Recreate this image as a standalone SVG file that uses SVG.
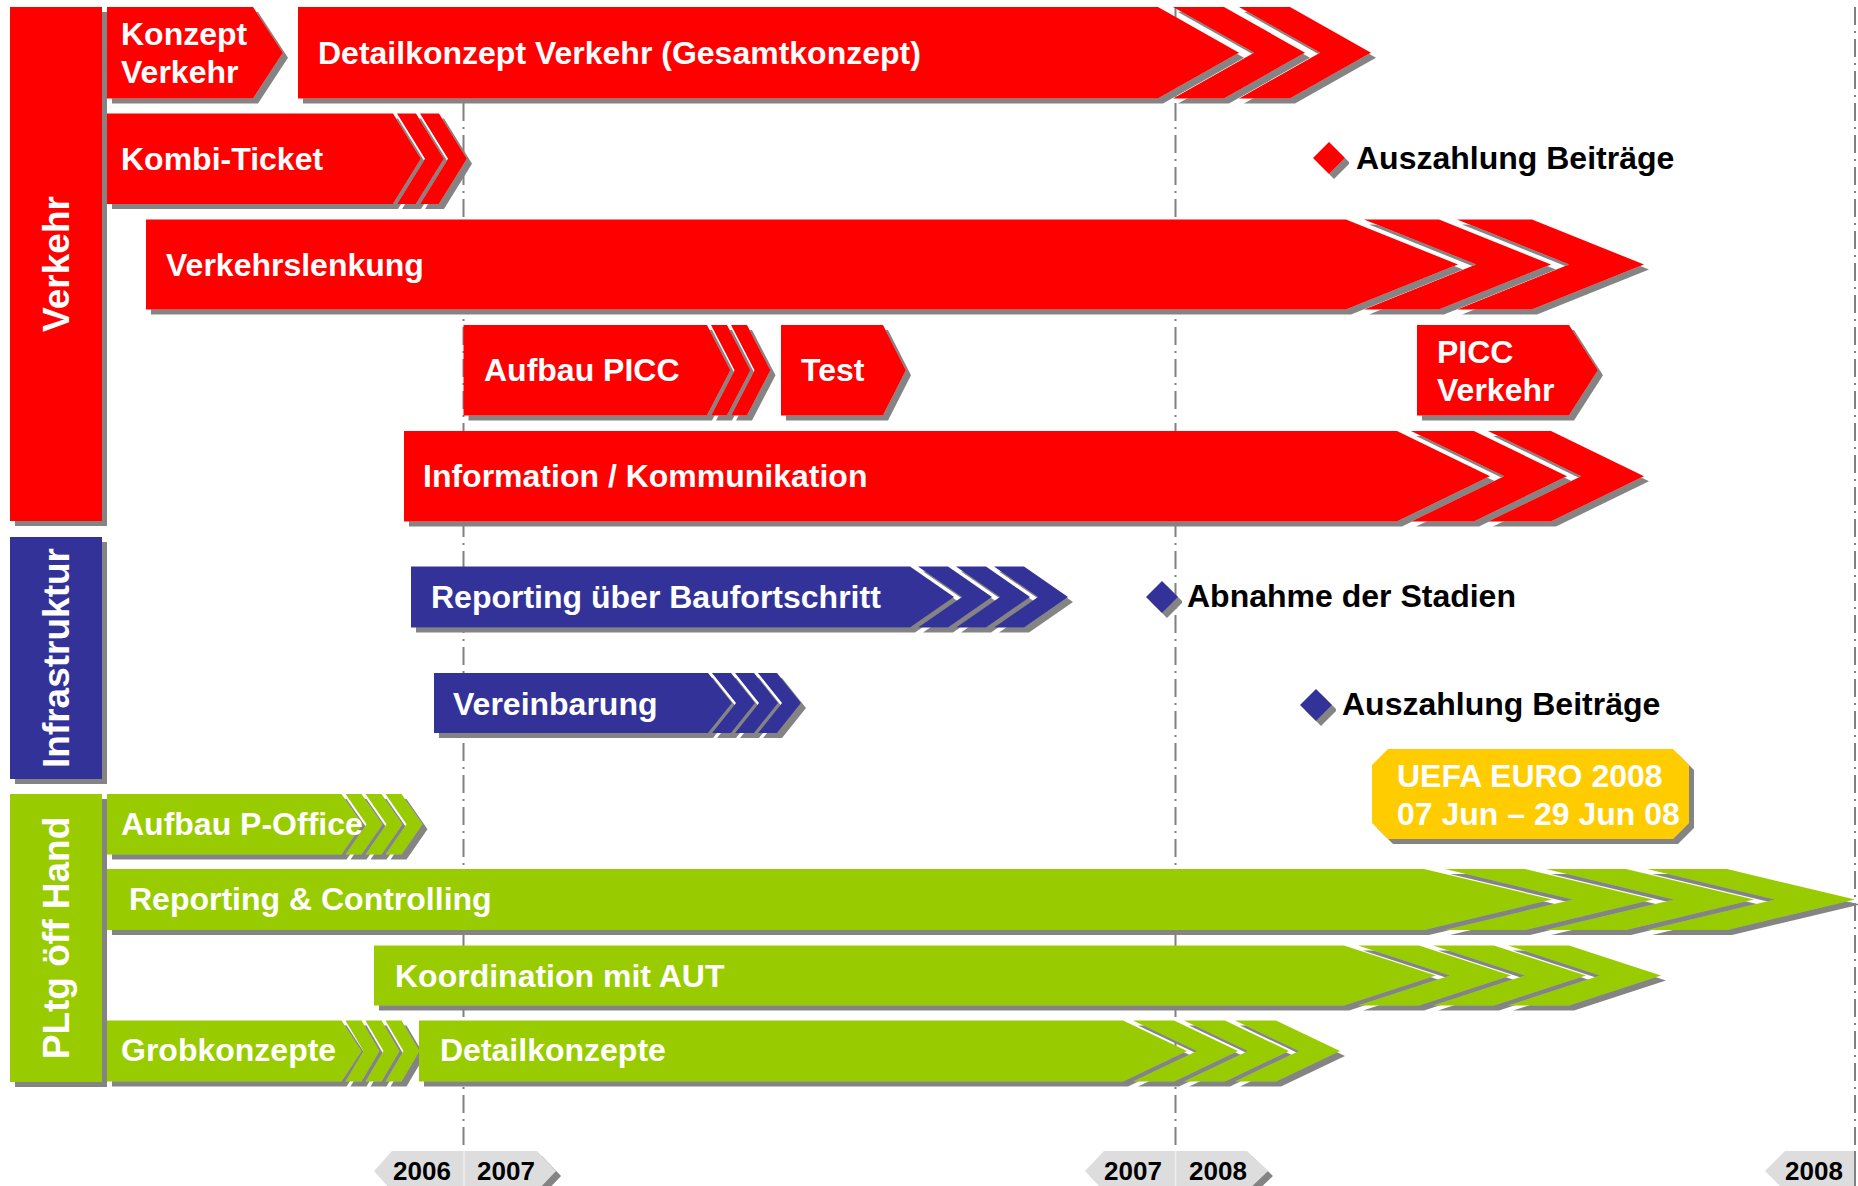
<svg xmlns="http://www.w3.org/2000/svg" width="1858" height="1186" viewBox="0 0 1858 1186">
<defs>
<filter id="sh" x="-5%" y="-15%" width="115%" height="140%">
<feOffset in="SourceAlpha" dx="5" dy="5" result="o"/>
<feFlood flood-color="#848484"/>
<feComposite in2="o" operator="in" result="s"/>
<feMerge><feMergeNode in="s"/><feMergeNode in="SourceGraphic"/></feMerge>
</filter>
<style>
.r{fill:#FF0000}
.b{fill:#333399}
.g{fill:#99CC00}
.y{fill:#FFCC00}
.ax{fill:#DDDDDD}
text{font-family:"Liberation Sans",Arial,sans-serif;font-weight:bold}
.lbl{font-size:32px;fill:#FFFFFF}
.ms{font-size:32px;fill:#000000}
.cat{font-size:37px;fill:#FFFFFF;text-anchor:middle}
.yr{font-size:26px;fill:#000000;text-anchor:middle}
.grid{stroke:#808080;stroke-width:2;fill:none;stroke-dasharray:18 6 2 6}
</style>
</defs>
<rect width="1858" height="1186" fill="#FFFFFF"/>

<g id="connectors">
<line class="grid" x1="463.5" y1="7" x2="463.5" y2="1150"/>
<line class="grid" x1="1175.5" y1="7" x2="1175.5" y2="1150"/>
<line class="grid" x1="1855" y1="7" x2="1855" y2="1152"/>
</g>

<g id="cat-verkehr">
<rect class="r" x="10" y="7" width="92" height="514" filter="url(#sh)"/>
<text class="cat" transform="translate(69,264) rotate(-90)">Verkehr</text>
</g>
<g id="cat-infrastruktur">
<rect class="b" x="10" y="537" width="92" height="242" filter="url(#sh)"/>
<text class="cat" transform="translate(69,658) rotate(-90)">Infrastruktur</text>
</g>
<g id="cat-pltg">
<rect class="g" x="10" y="794" width="92" height="288" filter="url(#sh)"/>
<text class="cat" transform="translate(69,938) rotate(-90)">PLtg öff Hand</text>
</g>

<g id="konzept-verkehr">
<polygon class="r" filter="url(#sh)" points="107,7 253,7 283,52.75 253,98.5 107,98.5"/>
<text class="lbl" x="121" y="45">Konzept</text>
<text class="lbl" x="121" y="83">Verkehr</text>
</g>

<g id="detailkonzept-verkehr">
<g class="r" filter="url(#sh)">
<polygon points="298,7 1158,7 1239,52.75 1158,98.5 298,98.5"/>
<polygon points="1173,7 1224,7 1305,52.75 1224,98.5 1173,98.5 1254,52.75"/>
<polygon points="1239,7 1290,7 1371,52.75 1290,98.5 1239,98.5 1320,52.75"/>
</g>
<text class="lbl" x="318" y="64">Detailkonzept Verkehr (Gesamtkonzept)</text>
</g>

<g id="kombi-ticket">
<g class="r" filter="url(#sh)">
<polygon points="107,113.5 393,113.5 421,158.75 393,204 107,204"/>
<polygon points="397,113.5 416,113.5 444,158.75 416,204 397,204 425,158.75"/>
<polygon points="420,113.5 439,113.5 467,158.75 439,204 420,204 448,158.75"/>
</g>
<text class="lbl" x="121" y="170">Kombi-Ticket</text>
</g>

<g id="ms-auszahlung-verkehr">
<polygon class="r" filter="url(#sh)" points="1329,142 1345,158 1329,174 1313,158"/>
<text class="ms" x="1356" y="169">Auszahlung Beiträge</text>
</g>

<g id="verkehrslenkung">
<g class="r" filter="url(#sh)">
<polygon points="146,219.5 1346,219.5 1458,264.5 1346,309.5 146,309.5"/>
<polygon points="1364,219.5 1439,219.5 1551,264.5 1439,309.5 1364,309.5 1476,264.5"/>
<polygon points="1457,219.5 1532,219.5 1644,264.5 1532,309.5 1457,309.5 1569,264.5"/>
</g>
<text class="lbl" x="166" y="276">Verkehrslenkung</text>
</g>

<g id="aufbau-picc">
<g class="r" filter="url(#sh)">
<polygon points="463.5,325 707,325 730.5,370.25 707,415.5 463.5,415.5"/>
<polygon points="711,325 727,325 750.5,370.25 727,415.5 711,415.5 734.5,370.25"/>
<polygon points="731,325 747,325 770.5,370.25 747,415.5 731,415.5 754.5,370.25"/>
</g>
<text class="lbl" x="484" y="381">Aufbau PICC</text>
</g>

<g id="test">
<polygon class="r" filter="url(#sh)" points="781,325 883,325 906,370.25 883,415.5 781,415.5"/>
<text class="lbl" x="801" y="381">Test</text>
</g>

<g id="picc-verkehr">
<polygon class="r" filter="url(#sh)" points="1417,325 1569,325 1598,370.25 1569,415.5 1417,415.5"/>
<text class="lbl" x="1437" y="363">PICC</text>
<text class="lbl" x="1437" y="401">Verkehr</text>
</g>

<g id="information-kommunikation">
<g class="r" filter="url(#sh)">
<polygon points="404,431 1397,431 1490,476.25 1397,521.5 404,521.5"/>
<polygon points="1411,431 1474,431 1567,476.25 1474,521.5 1411,521.5 1504,476.25"/>
<polygon points="1488,431 1551,431 1644,476.25 1551,521.5 1488,521.5 1581,476.25"/>
</g>
<text class="lbl" x="423" y="487">Information / Kommunikation</text>
</g>

<g id="reporting-baufortschritt">
<g class="b" filter="url(#sh)">
<polygon points="411,566.5 910,566.5 954,597 910,627.5 411,627.5"/>
<polygon points="918,566.5 948,566.5 992,597 948,627.5 918,627.5 962,597"/>
<polygon points="956,566.5 986,566.5 1030,597 986,627.5 956,627.5 1000,597"/>
<polygon points="994,566.5 1024,566.5 1068,597 1024,627.5 994,627.5 1038,597"/>
</g>
<text class="lbl" x="431" y="608">Reporting über Baufortschritt</text>
</g>

<g id="ms-abnahme-stadien">
<polygon class="b" filter="url(#sh)" points="1162,581 1178,597 1162,613 1146,597"/>
<text class="ms" x="1187" y="607">Abnahme der Stadien</text>
</g>

<g id="vereinbarung">
<g class="b" filter="url(#sh)">
<polygon points="434,673 708,673 732,703 708,733 434,733"/>
<polygon points="712,673 731,673 755,703 731,733 712,733 736,703"/>
<polygon points="735,673 754,673 778,703 754,733 735,733 759,703"/>
<polygon points="758,673 777,673 801,703 777,733 758,733 782,703"/>
</g>
<text class="lbl" x="453" y="715">Vereinbarung</text>
</g>

<g id="ms-auszahlung-infra">
<polygon class="b" filter="url(#sh)" points="1316,689 1332,705 1316,721 1300,705"/>
<text class="ms" x="1342" y="715">Auszahlung Beiträge</text>
</g>

<g id="uefa-euro">
<polygon class="y" filter="url(#sh)" points="1388,749 1673,749 1689,765 1689,823 1673,839 1388,839 1372,823 1372,765"/>
<text class="lbl" x="1397" y="787">UEFA EURO 2008</text>
<text class="lbl" x="1397" y="825">07 Jun – 29 Jun 08</text>
</g>

<g id="aufbau-p-office">
<g class="g" filter="url(#sh)">
<polygon points="107,794 341.5,794 362.5,824.25 341.5,854.5 107,854.5"/>
<polygon points="345.5,794 361.5,794 382.5,824.25 361.5,854.5 345.5,854.5 366.5,824.25"/>
<polygon points="365.5,794 381.5,794 402.5,824.25 381.5,854.5 365.5,854.5 386.5,824.25"/>
<polygon points="385.5,794 401.5,794 422.5,824.25 401.5,854.5 385.5,854.5 406.5,824.25"/>
</g>
<text class="lbl" x="121" y="835">Aufbau P-Office</text>
</g>

<g id="reporting-controlling">
<g class="g" filter="url(#sh)">
<polygon points="107,869 1424,869 1552,899.5 1424,930 107,930"/>
<polygon points="1445,869 1525,869 1653,899.5 1525,930 1445,930 1573,899.5"/>
<polygon points="1546,869 1626,869 1754,899.5 1626,930 1546,930 1674,899.5"/>
<polygon points="1647,869 1727,869 1855,899.5 1727,930 1647,930 1775,899.5"/>
</g>
<text class="lbl" x="129" y="910">Reporting &amp; Controlling</text>
</g>

<g id="koordination-aut">
<g class="g" filter="url(#sh)">
<polygon points="374,945.5 1344,945.5 1436,975.5 1344,1005.5 374,1005.5"/>
<polygon points="1358,945.5 1419,945.5 1511,975.5 1419,1005.5 1358,1005.5 1450,975.5"/>
<polygon points="1433,945.5 1494,945.5 1586,975.5 1494,1005.5 1433,1005.5 1525,975.5"/>
<polygon points="1508,945.5 1569,945.5 1661,975.5 1569,1005.5 1508,1005.5 1600,975.5"/>
</g>
<text class="lbl" x="395" y="987">Koordination mit AUT</text>
</g>

<g id="grobkonzepte">
<g class="g" filter="url(#sh)">
<polygon points="107,1020.5 341.5,1020.5 361.5,1051 341.5,1081.5 107,1081.5"/>
<polygon points="345.5,1020.5 361.5,1020.5 379.5,1051 361.5,1081.5 345.5,1081.5 363.5,1051"/>
<polygon points="365.5,1020.5 381.5,1020.5 399.5,1051 381.5,1081.5 365.5,1081.5 383.5,1051"/>
<polygon points="385.5,1020.5 401.5,1020.5 419.5,1051 401.5,1081.5 385.5,1081.5 403.5,1051"/>
</g>
<text class="lbl" x="121" y="1061">Grobkonzepte</text>
</g>

<g id="detailkonzepte">
<g class="g" filter="url(#sh)">
<polygon points="419,1020.5 1123,1020.5 1187,1051 1123,1081.5 419,1081.5"/>
<polygon points="1133,1020.5 1174,1020.5 1238,1051 1174,1081.5 1133,1081.5 1197,1051"/>
<polygon points="1184,1020.5 1225,1020.5 1289,1051 1225,1081.5 1184,1081.5 1248,1051"/>
<polygon points="1235,1020.5 1276,1020.5 1340,1051 1276,1081.5 1235,1081.5 1299,1051"/>
</g>
<text class="lbl" x="440" y="1061">Detailkonzepte</text>
</g>

<g id="axis-2006-2007">
<polygon class="ax" filter="url(#sh)" points="374,1171 392,1151 537,1151 556,1171 537,1191 392,1191"/>
<line x1="464" y1="1151" x2="464" y2="1191" stroke="#EEEEEE" stroke-width="1.5"/>
<text class="yr" x="422" y="1180">2006</text>
<text class="yr" x="506" y="1180">2007</text>
</g>
<g id="axis-2007-2008">
<polygon class="ax" filter="url(#sh)" points="1085,1171 1104,1151 1247,1151 1268,1171 1247,1191 1104,1191"/>
<line x1="1175.5" y1="1151" x2="1175.5" y2="1191" stroke="#EEEEEE" stroke-width="1.5"/>
<text class="yr" x="1133" y="1180">2007</text>
<text class="yr" x="1218" y="1180">2008</text>
</g>
<g id="axis-2008">
<polygon class="ax" points="1765,1171 1785,1151 1855,1151 1855,1191 1785,1191"/>
<line x1="1855" y1="1151" x2="1855" y2="1186" stroke="#808080" stroke-width="2"/>
<text class="yr" x="1814" y="1180">2008</text>
</g>
</svg>
